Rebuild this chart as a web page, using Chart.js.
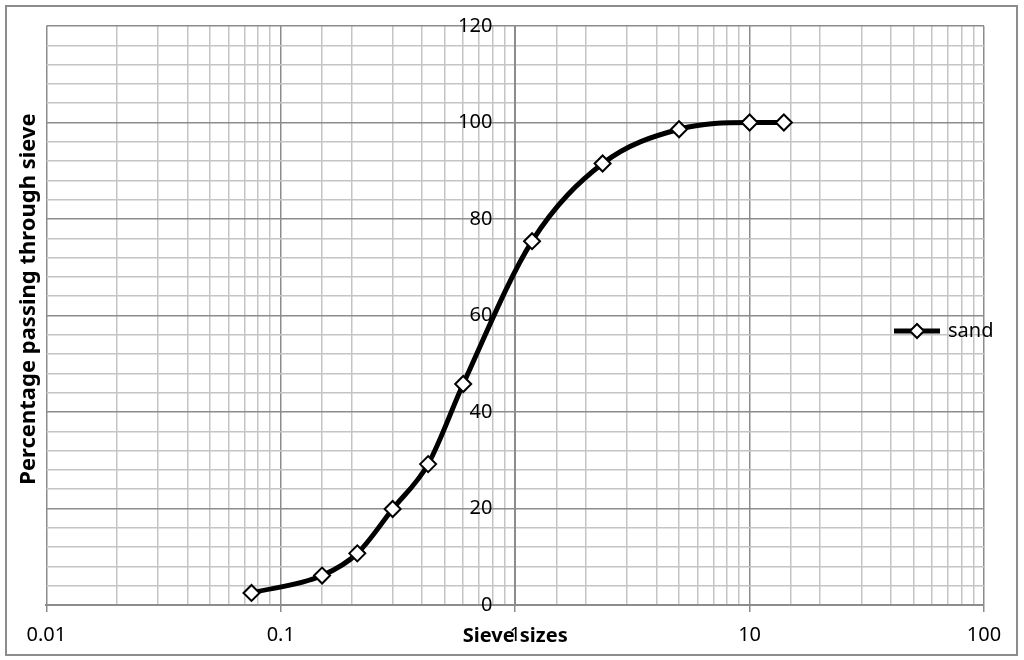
<!DOCTYPE html>
<html>
<head>
<meta charset="utf-8">
<script src="https://cdn.jsdelivr.net/npm/chart.js@4"></script>
<style>
  html, body { margin: 0; padding: 0; background: #fff; }
  #wrap { position: relative; width: 1024px; height: 660px; }
  #frame { position: absolute; left: 5px; top: 5px; width: 1009px; height: 647px; border: 2px solid #8c8c8c; pointer-events: none; }
</style>
</head>
<body>
<div id="wrap">
  <canvas id="chart" width="1024" height="660"></canvas>
  <div id="frame"></div>
</div>
<script>
// sieve analysis - sand
const sieveSizes = [0.075, 0.15, 0.212, 0.3, 0.425, 0.6, 1.18, 2.36, 5, 10, 14];
const passing = [2.5, 6.1, 10.7, 19.9, 29.2, 45.8, 75.4, 91.5, 98.6, 100, 100];
const xTickLabels = ['0.01', '0.1', '1', '10', '100'];
const yTickLabels = ['0', '20', '40', '60', '80', '100', '120'];

const FONT = 'Noto Sans';
const MAJOR = '#8c8c8c';
const MINOR = '#c4c4c4';
const GAP = '\u2007\u2007'; // keeps y labels off the axis line (padding is ignored for a positioned axis)

function isDecade(v) {
  const l = Math.log10(v);
  return Math.abs(l - Math.round(l)) < 1e-6;
}

// legend symbol: thick line with a diamond in the middle
function legendSymbol() {
  const c = document.createElement('canvas');
  c.width = 46; c.height = 18;
  const g = c.getContext('2d');
  g.strokeStyle = '#000';
  g.lineWidth = 5;
  g.beginPath(); g.moveTo(0, 9); g.lineTo(46, 9); g.stroke();
  g.beginPath();
  g.moveTo(16, 9); g.lineTo(23, 2); g.lineTo(30, 9); g.lineTo(23, 16); g.closePath();
  g.fillStyle = '#fff'; g.fill();
  g.lineWidth = 2; g.stroke();
  return c;
}
const symbol = legendSymbol();

// legend sits inside the plot on the right, like the excel one
const legendPlacer = {
  id: 'legendPlacer',
  afterLayout(chart) {
    const lg = chart.legend;
    const area = chart.chartArea;
    const w = lg.width, h = lg.height;
    lg.left = area.right - 98;
    lg.right = lg.left + w;
    lg.top = area.top + 285;
    lg.bottom = lg.top + h;
  }
};

new Chart(document.getElementById('chart'), {
  type: 'line',
  data: {
    datasets: [{
      label: 'sand',
      data: sieveSizes.map((s, i) => ({ x: s, y: passing[i] })),
      xAxisID: 'x',
      yAxisID: 'y',
      borderColor: '#000',
      borderWidth: 5,
      cubicInterpolationMode: 'monotone',
      pointStyle: 'rectRot',
      pointRadius: 8,
      pointHoverRadius: 8,
      pointBorderWidth: 2,
      pointBackgroundColor: '#fff',
      pointBorderColor: '#000'
    }]
  },
  options: {
    responsive: false,
    animation: false,
    layout: { padding: { left: 13, right: 40, top: 26, bottom: 3 } },
    plugins: {
      tooltip: { enabled: false },
      legend: {
        position: 'chartArea',
        align: 'start',
        labels: {
          color: '#000',
          font: { family: FONT, size: 20 },
          usePointStyle: true,
          pointStyleWidth: 42,
          generateLabels(chart) {
            const items = Chart.defaults.plugins.legend.labels.generateLabels(chart);
            items.forEach(it => { it.pointStyle = symbol; });
            return items;
          }
        }
      }
    },
    scales: {
      x: {
        type: 'logarithmic',
        position: 'bottom',
        min: 0.01,
        max: 100,
        grid: {
          color: c => (c.tick && isDecade(c.tick.value)) ? MAJOR : MINOR,
          lineWidth: 1.5,
          tickLength: 7,
          tickColor: c => (c.tick && isDecade(c.tick.value)) ? MAJOR : 'rgba(0,0,0,0)'
        },
        border: { color: MAJOR, width: 2 },
        ticks: {
          autoSkip: false,
          maxRotation: 0,
          padding: 11,
          color: '#000',
          font: { family: FONT, size: 20 },
          callback: v => isDecade(v) ? xTickLabels[Math.round(Math.log10(v)) + 2] : ''
        },
        title: {
          display: true,
          text: 'Sieve sizes',
          color: '#000',
          font: { family: FONT, size: 20, weight: 'bold' },
          padding: { top: -34, bottom: 9 }
        }
      },
      y: {
        type: 'linear',
        position: { x: 1 },
        min: 0,
        max: 120,
        grid: {
          color: c => (c.tick && c.tick.value % 20 === 0) ? MAJOR : MINOR,
          lineWidth: 1.5,
          drawTicks: false
        },
        border: { color: MAJOR, width: 2 },
        ticks: {
          stepSize: 4,
          maxTicksLimit: 40,
          autoSkip: false,
          color: '#000',
          font: { family: FONT, size: 20 },
          callback: v => v % 20 === 0 ? yTickLabels[v / 20] + GAP : ''
        }
      },
      yTitle: {
        axis: 'y',
        type: 'linear',
        position: 'left',
        min: 0,
        max: 120,
        grid: { display: false, drawTicks: false },
        border: { display: false },
        ticks: { display: false },
        title: {
          display: true,
          // leading en spaces nudge the rotated title up a little, as in the original
          text: '\u2002\u2002\u2002Percentage passing through sieve',
          color: '#000',
          font: { family: FONT, size: 22, weight: 'bold' },
          padding: { top: 3, bottom: 4 }
        }
      }
    }
  },
  plugins: [legendPlacer]
});
</script>
</body>
</html>
